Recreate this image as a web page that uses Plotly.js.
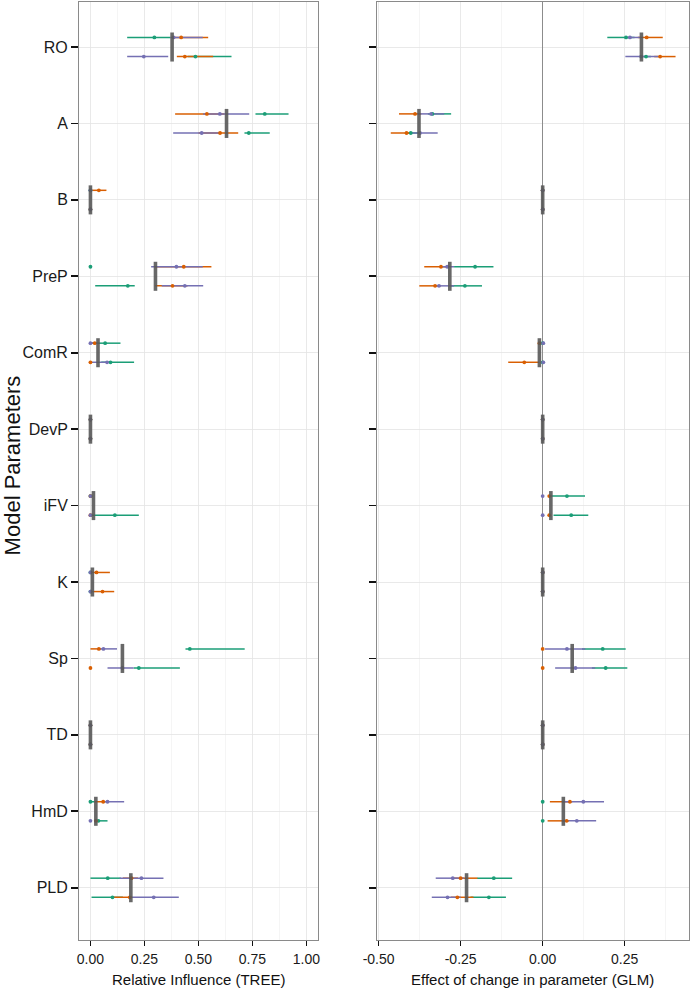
<!DOCTYPE html>
<html>
<head>
<meta charset="utf-8">
<script src="https://cdn.plot.ly/plotly-3.0.1.min.js"></script>
<style>html,body{margin:0;padding:0;background:#fff;}#chart{width:692px;height:992px;}</style>
</head>
<body>
<div id="chart"></div>
<script>
// ---------- DATA ----------
const categories = ['RO','A','B','PreP','ComR','DevP','iFV','K','Sp','TD','HmD','PLD'];

const treeTicks = [0, 0.25, 0.5, 0.75, 1];
const treeTickText = ['0.00','0.25','0.50','0.75','1.00'];
const glmTicks = [-0.5, -0.25, 0, 0.25];
const glmTickText = ['-0.50','-0.25','0.00','0.25'];

// median bars
const treeMedian = [0.378, 0.63, 0.0, 0.301, 0.035, 0.0, 0.014, 0.009, 0.148, 0.0, 0.025, 0.187];
const glmMedian  = [0.301, -0.377, 0.0, -0.283, -0.010, 0.0, 0.025, 0.0, 0.090, 0.0, 0.063, -0.232];

// TREE — green
const treeGreenUpMid = [0.296, 0.807, 0, 0, 0.068, 0, 0, 0, 0.46, 0, 0, 0.08];
const treeGreenUpLo  = [0.17, 0.764, 0, 0, 0.0, 0, 0, 0, 0.44, 0, 0, 0.0];
const treeGreenUpHi  = [0.37, 0.917, 0, 0, 0.139, 0, 0, 0, 0.714, 0, 0.02, 0.14];
const treeGreenLoMid = [0.486, 0.733, 0, 0.173, 0.093, 0, 0.113, 0, 0.224, 0, 0.037, 0.102];
const treeGreenLoLo  = [0.45, 0.713, 0, 0.022, 0.05, 0, 0.0, 0, 0.2, 0, 0.02, 0.005];
const treeGreenLoHi  = [0.653, 0.83, 0, 0.205, 0.202, 0, 0.224, 0, 0.414, 0, 0.079, 0.15];
// TREE — orange
const treeOrangeUpMid = [0.42, 0.539, 0.039, 0.432, 0.02, 0, 0, 0.028, 0.039, 0, 0.059, 0.19];
const treeOrangeUpLo  = [0.38, 0.392, 0.0, 0.30, 0.0, 0, 0, 0.0, 0.0, 0, 0.02, 0.15];
const treeOrangeUpHi  = [0.545, 0.62, 0.074, 0.56, 0.03, 0, 0, 0.09, 0.05, 0, 0.07, 0.22];
const treeOrangeLoMid = [0.437, 0.60, 0, 0.38, 0.0, 0, 0, 0.056, 0.0, 0, 0.025, 0.182];
const treeOrangeLoLo  = [0.40, 0.50, 0, 0.30, 0, 0, 0, 0.0, 0, 0, 0.02, 0.105];
const treeOrangeLoHi  = [0.568, 0.684, 0, 0.45, 0, 0, 0, 0.11, 0, 0, 0.03, 0.19];
// TREE — purple
const treePurpleUpMid = [0.385, 0.599, 0, 0.398, 0.0, 0, 0, 0, 0.06, 0, 0.079, 0.236];
const treePurpleUpLo  = [0.37, 0.522, 0, 0.281, 0.0, 0, 0, 0, 0.03, 0, 0.06, 0.135];
const treePurpleUpHi  = [0.52, 0.735, 0, 0.52, 0.035, 0, 0, 0, 0.123, 0, 0.156, 0.338];
const treePurpleLoMid = [0.247, 0.515, 0, 0.437, 0.077, 0, 0, 0, 0.148, 0, 0, 0.293];
const treePurpleLoLo  = [0.17, 0.383, 0, 0.33, 0.0, 0, 0, 0, 0.079, 0, 0, 0.187];
const treePurpleLoHi  = [0.36, 0.60, 0, 0.522, 0.09, 0, 0, 0, 0.2, 0, 0, 0.409];

// GLM — green
const glmGreenUpMid = [0.254, -0.336, 0, -0.206, 0, 0, 0.074, 0, 0.183, 0, 0, -0.149];
const glmGreenUpLo  = [0.197, -0.35, 0, -0.27, 0, 0, 0.017, 0, 0.12, 0, 0, -0.2];
const glmGreenUpHi  = [0.28, -0.279, 0, -0.150, 0, 0, 0.129, 0, 0.253, 0, 0, -0.093];
const glmGreenLoMid = [0.315, -0.402, 0, -0.237, 0, 0, 0.087, 0, 0.192, 0, 0, -0.164];
const glmGreenLoLo  = [0.30, -0.42, 0, -0.28, 0, 0, 0.033, 0, 0.15, 0, 0, -0.22];
const glmGreenLoHi  = [0.33, -0.38, 0, -0.185, 0, 0, 0.139, 0, 0.258, 0, 0, -0.112];
// GLM — orange
const glmOrangeUpMid = [0.317, -0.389, 0, -0.31, -0.01, 0, 0.02, 0, 0, 0, 0.083, -0.25];
const glmOrangeUpLo  = [0.29, -0.438, 0, -0.361, -0.01, 0, 0.02, 0, 0, 0, 0.022, -0.27];
const glmOrangeUpHi  = [0.366, -0.37, 0, -0.29, -0.01, 0, 0.02, 0, 0, 0, 0.09, -0.199];
const glmOrangeLoMid = [0.358, -0.415, 0, -0.328, -0.056, 0, 0.02, 0, 0, 0, 0.073, -0.26];
const glmOrangeLoLo  = [0.34, -0.463, 0, -0.376, -0.105, 0, 0.02, 0, 0, 0, 0.015, -0.28];
const glmOrangeLoHi  = [0.405, -0.40, 0, -0.31, -0.01, 0, 0.02, 0, 0, 0, 0.08, -0.211];
// GLM — purple
const glmPurpleUpMid = [0.266, -0.34, 0, -0.291, 0.002, 0, 0, 0, 0.074, 0, 0.124, -0.274];
const glmPurpleUpLo  = [0.25, -0.38, 0, -0.31, 0.0, 0, 0, 0, 0.007, 0, 0.06, -0.326];
const glmPurpleUpHi  = [0.30, -0.30, 0, -0.27, 0.002, 0, 0, 0, 0.13, 0, 0.187, -0.24];
const glmPurpleLoMid = [0.30, -0.374, 0, -0.316, 0.002, 0, 0, 0, 0.10, 0, 0.104, -0.29];
const glmPurpleLoLo  = [0.252, -0.40, 0, -0.33, 0.002, 0, 0, 0, 0.038, 0, 0.06, -0.338];
const glmPurpleLoHi  = [0.353, -0.32, 0, -0.27, 0.002, 0, 0, 0, 0.16, 0, 0.163, -0.25];

// ---------- STYLE ----------
const colGreen = '#1B9E77', colOrange = '#D95F02', colPurple = '#7570B3';
const rowOff = 0.125, barHalf = 0.19;
const FONT = 'Liberation Sans, Arial, Helvetica, sans-serif';

function rangeTrace(upLo, upHi, loLo, loHi, color, xa, ya) {
  const x = [], y = [];
  categories.forEach((c, i) => {
    x.push(upLo[i], upHi[i], null, loLo[i], loHi[i], null);
    y.push(i - rowOff, i - rowOff, null, i + rowOff, i + rowOff, null);
  });
  return {x, y, xaxis: xa, yaxis: ya, mode: 'lines', type: 'scatter', hoverinfo: 'skip',
          line: {color, width: 1.5}, showlegend: false, connectgaps: false};
}
function pointTrace(upMid, loMid, color, xa, ya) {
  const x = [], y = [];
  categories.forEach((c, i) => { x.push(upMid[i], loMid[i]); y.push(i - rowOff, i + rowOff); });
  return {x, y, xaxis: xa, yaxis: ya, mode: 'markers', type: 'scatter',
          marker: {color, size: 3.8}, showlegend: false};
}
function barTrace(med, xa, ya) {
  const x = [], y = [];
  categories.forEach((c, i) => { x.push(med[i], med[i], null); y.push(i - barHalf, i + barHalf, null); });
  return {x, y, xaxis: xa, yaxis: ya, mode: 'lines', type: 'scatter',
          line: {color: 'rgba(88,88,88,0.9)', width: 3.6}, showlegend: false};
}

const traces = [
  rangeTrace(treeGreenUpLo, treeGreenUpHi, treeGreenLoLo, treeGreenLoHi, colGreen, 'x', 'y'),
  rangeTrace(treeOrangeUpLo, treeOrangeUpHi, treeOrangeLoLo, treeOrangeLoHi, colOrange, 'x', 'y'),
  rangeTrace(treePurpleUpLo, treePurpleUpHi, treePurpleLoLo, treePurpleLoHi, colPurple, 'x', 'y'),
  pointTrace(treeGreenUpMid, treeGreenLoMid, colGreen, 'x', 'y'),
  pointTrace(treeOrangeUpMid, treeOrangeLoMid, colOrange, 'x', 'y'),
  pointTrace(treePurpleUpMid, treePurpleLoMid, colPurple, 'x', 'y'),
  barTrace(treeMedian, 'x', 'y'),
  rangeTrace(glmGreenUpLo, glmGreenUpHi, glmGreenLoLo, glmGreenLoHi, colGreen, 'x2', 'y2'),
  rangeTrace(glmOrangeUpLo, glmOrangeUpHi, glmOrangeLoLo, glmOrangeLoHi, colOrange, 'x2', 'y2'),
  rangeTrace(glmPurpleUpLo, glmPurpleUpHi, glmPurpleLoLo, glmPurpleLoHi, colPurple, 'x2', 'y2'),
  pointTrace(glmGreenUpMid, glmGreenLoMid, colGreen, 'x2', 'y2'),
  pointTrace(glmOrangeUpMid, glmOrangeLoMid, colOrange, 'x2', 'y2'),
  pointTrace(glmPurpleUpMid, glmPurpleLoMid, colPurple, 'x2', 'y2'),
  barTrace(glmMedian, 'x2', 'y2')
];

const gridMajor = '#e4e4e4', gridMinor = '#f3f3f3', borderCol = '#8a8a8a';
const commonX = {
  ticks: 'outside', ticklen: 5, tickwidth: 1.3, tickcolor: '#111',
  showgrid: true, gridcolor: gridMajor, gridwidth: 0.8,
  showline: true, mirror: true, linecolor: borderCol, linewidth: 1,
  ticklabelstandoff: 1,
  tickfont: {family: FONT, size: 14, color: '#1a1a1a'}, fixedrange: true
};
const catIdx = categories.map((c, i) => i);
const commonY = {
  range: [11.684, -0.589], tickmode: 'array', tickvals: catIdx, ticktext: categories,
  ticks: 'outside', ticklen: 7, tickwidth: 1.6, tickcolor: '#111',
  showgrid: true, gridcolor: gridMajor, gridwidth: 0.8, zeroline: false,
  showline: true, mirror: true, linecolor: borderCol, linewidth: 1,
  tickfont: {family: FONT, size: 16, color: '#1a1a1a'}, fixedrange: true
};

const layout = {
  width: 692, height: 992,
  margin: {l: 79, r: 3, t: 2, b: 52},
  paper_bgcolor: '#fff', plot_bgcolor: '#fff',
  showlegend: false,
  xaxis: Object.assign({}, commonX, {
    domain: [0, 0.392], anchor: 'y', range: [-0.053, 1.054],
    tickmode: 'array', tickvals: treeTicks, ticktext: treeTickText, zeroline: false,
    minor: {tickvals: [0.125, 0.375, 0.625, 0.875], showgrid: true, gridcolor: gridMinor, gridwidth: 0.8, ticks: ''}
  }),
  xaxis2: Object.assign({}, commonX, {
    domain: [0.4885, 1], anchor: 'y2', range: [-0.505, 0.446],
    tickmode: 'array', tickvals: glmTicks, ticktext: glmTickText,
    zeroline: true, zerolinecolor: '#8c8c8c', zerolinewidth: 1.6,
    minor: {tickvals: [-0.375, -0.125, 0.125, 0.375], showgrid: true, gridcolor: gridMinor, gridwidth: 0.8, ticks: ''}
  }),
  yaxis: Object.assign({}, commonY, {anchor: 'x'}),
  yaxis2: Object.assign({}, commonY, {anchor: 'x2', matches: 'y', showticklabels: false}),
  annotations: [
    {text: 'Model Parameters', xref: 'paper', yref: 'paper', x: -0.1098, y: 0.506,
     textangle: -90, showarrow: false, xanchor: 'center', yanchor: 'middle',
     font: {family: FONT, size: 22, color: '#111'}},
    {text: 'Relative Influence (TREE)', xref: 'paper', yref: 'paper', x: 0.1964, y: -0.0426,
     showarrow: false, xanchor: 'center', yanchor: 'middle',
     font: {family: FONT, size: 15, color: '#111'}},
    {text: 'Effect of change in parameter (GLM)', xref: 'paper', yref: 'paper', x: 0.744, y: -0.0426,
     showarrow: false, xanchor: 'center', yanchor: 'middle',
     font: {family: FONT, size: 15, color: '#111'}}
  ]
};

Plotly.newPlot('chart', traces, layout, {displayModeBar: false, staticPlot: true});
</script>
</body>
</html>
